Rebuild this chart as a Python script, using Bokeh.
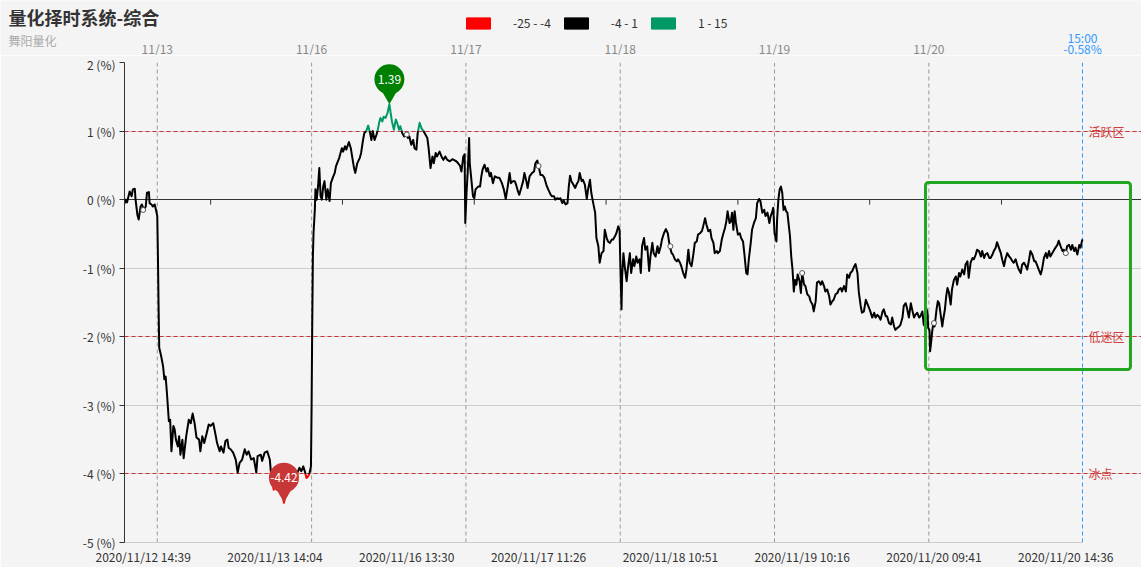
import numpy as np
from bokeh.plotting import figure
from bokeh.models import (Range1d, FixedTicker, Grid, BoxAnnotation, Legend, LegendItem)
from bokeh.embed import file_html
from bokeh.resources import INLINE
from bokeh.core.properties import value

# ---------------- data ----------------
minute_idx = [
    0, 2, 4, 8, 11, 13, 16, 17, 20, 22, 25, 27, 30, 33, 35, 38, 39, 42, 44, 47, 49, 51, 52, 53, 54, 57, 60, 62, 64, 66,
    69, 71, 73, 76, 78, 80, 83, 85, 87, 90, 92, 96, 100, 103, 106, 109, 112, 116, 118, 121, 124, 128, 131, 134, 138,
    141, 144, 148, 150, 154, 157, 160, 162, 165, 169, 173, 176, 179, 183, 187, 190, 193, 197, 201, 205, 207, 212, 214,
    218, 222, 226, 228, 232, 235, 239, 243, 248, 252, 256, 259, 263, 269, 272, 275, 278, 281, 283, 286, 288, 290, 291,
    292, 293, 294, 296, 297, 299, 301, 303, 305, 307, 309, 311, 314, 316, 319, 321, 324, 327, 329, 332, 334, 338, 340,
    343, 345, 349, 352, 354, 357, 359, 362, 366, 368, 371, 373, 376, 379, 382, 384, 386, 389, 392, 394, 396, 398, 401,
    403, 406, 409, 412, 414, 416, 419, 422, 424, 427, 429, 432, 435, 438, 441, 443, 446, 449, 451, 454, 456, 459, 462,
    465, 468, 471, 473, 476, 479, 481, 484, 486, 490, 493, 496, 499, 502, 506,
    510, 512, 516, 519, 522, 524, 527, 529, 530, 532, 534, 536, 537, 539, 542, 544, 546, 550, 553, 555, 557, 560, 563,
    565, 568, 570, 573, 576, 580, 583, 587, 590, 593, 596, 599, 601, 604, 607, 609, 612, 614, 617, 620, 622, 625, 627,
    630, 634, 637, 639, 642, 644, 647, 650, 653, 656, 659, 663, 665, 668, 670, 673, 676, 678, 681, 683, 686, 689, 691,
    693, 695, 698, 701, 703, 706, 708, 711, 713, 716, 719, 721, 724, 726, 729, 732, 734, 737, 739, 742, 745, 747, 750,
    752, 755, 758, 760, 763, 765, 768, 770, 771, 773, 774, 776, 778, 781, 783, 786, 788, 791, 793, 796, 798, 801, 803,
    805, 808, 810, 813, 816, 818, 821, 823, 826, 829, 831, 834, 836, 839, 842, 845, 848, 851, 853, 856, 859, 861, 864,
    866, 869, 872, 874, 877, 879, 882, 885, 887, 890, 892, 895, 898, 900, 903, 905, 908, 911, 913, 916, 918, 921, 923,
    926, 929, 931, 934, 936, 938, 941, 943, 945, 947, 949, 951, 954, 957, 959, 962, 964, 967, 969, 971, 974, 976, 979,
    982, 984, 987, 989, 992, 995, 997, 1000, 1003,
    1005, 1007, 1009, 1011, 1014, 1015, 1017, 1019, 1021, 1023, 1025, 1027, 1029, 1031, 1033, 1035, 1037, 1039, 1041,
    1043, 1045, 1047, 1050, 1052, 1054, 1057, 1059, 1062, 1065, 1067, 1070, 1072, 1075, 1077, 1080, 1083, 1085, 1088,
    1090, 1093, 1096, 1098, 1101, 1103, 1106, 1109, 1111, 1114, 1116, 1119, 1122, 1124, 1127, 1129, 1132, 1135, 1137,
    1140, 1142, 1145, 1147, 1150, 1153, 1155, 1158, 1160, 1163, 1166, 1168, 1171, 1173, 1176, 1179, 1181, 1184, 1186,
    1189, 1192, 1194, 1197, 1199, 1202, 1205, 1207, 1210, 1212, 1215, 1217, 1220, 1223, 1225, 1228, 1230, 1233, 1236,
    1238, 1241, 1243, 1245, 1247, 1249, 1250, 1252, 1253, 1255, 1256, 1258, 1260, 1263, 1265, 1267, 1269, 1272, 1273,
    1276, 1278, 1280, 1282, 1285, 1287, 1290, 1293, 1295, 1298, 1300, 1303, 1306, 1308, 1311, 1313, 1316, 1319, 1321,
    1324, 1326, 1329, 1332, 1334, 1337, 1339, 1342, 1345, 1347, 1350, 1352, 1355, 1357, 1360, 1363, 1365, 1368, 1370,
    1373, 1376, 1378, 1381, 1383, 1386, 1389, 1391, 1394, 1396, 1399, 1402, 1404, 1407, 1409, 1412, 1415, 1417, 1420,
    1422, 1425, 1427, 1430, 1433, 1435, 1438, 1440, 1443, 1446, 1448, 1451, 1453, 1456, 1459, 1461, 1464, 1466, 1469,
    1472, 1474, 1477, 1479, 1482, 1485, 1487, 1489, 1490,
]
pct = [
    -0.06, 0.00, -0.04, 0.12, 0.05, 0.15, 0.16, 0.02, -0.22, -0.29, -0.10, -0.07, -0.15, -0.10, 0.10, 0.11, -0.05,
    -0.07, -0.10, -0.07, -0.15, -0.24, -0.83, -1.55, -2.16, -2.28, -2.43, -2.62, -2.58, -2.82, -3.23, -3.21, -3.67,
    -3.30, -3.35, -3.50, -3.60, -3.45, -3.72, -3.50, -3.77, -3.45, -3.21, -3.26, -3.12, -3.26, -3.47, -3.50, -3.67,
    -3.45, -3.55, -3.40, -3.28, -3.30, -3.26, -3.40, -3.55, -3.67, -3.60, -3.69, -3.52, -3.50, -3.62, -3.64, -3.69,
    -3.79, -3.98, -3.84, -3.79, -3.64, -3.72, -3.67, -3.79, -3.77, -3.98, -3.74, -3.72, -3.81, -3.69, -3.67, -3.79,
    -4.01, -4.23, -4.11, -4.20, -4.15, -4.42, -4.23, -4.13, -4.18, -4.08, -3.98, -3.91, -3.96, -3.89, -3.98, -4.06,
    -4.03, -3.98, -3.89, -3.01, -1.80, -0.83, -0.49, -0.15, 0.15, 0.00, 0.19, 0.46, 0.05, 0.00, 0.19, 0.27, 0.00,
    0.15, -0.02, 0.24, 0.32, 0.39, 0.49, 0.56, 0.61, 0.75, 0.70, 0.78, 0.73, 0.84, 0.75, 0.63, 0.46, 0.39, 0.53, 0.61,
    0.68, 0.87, 0.97, 1.00, 1.08, 0.97, 0.87, 1.00, 0.87, 0.95, 1.02, 1.12, 1.19, 1.14, 1.21, 1.19, 1.26, 1.39, 1.26,
    1.14, 1.02, 1.17, 1.12, 1.02, 1.07, 0.97, 0.92, 0.95, 0.90, 0.92, 0.80, 0.87, 0.75, 0.73, 0.97, 1.12, 1.04, 1.00,
    0.95, 0.90, 0.75, 0.46, 0.63, 0.53, 0.68, 0.63, 0.70, 0.63, 0.58, 0.63, 0.58, 0.56,
    0.59, 0.58, 0.56, 0.53, 0.49, 0.41, 0.63, 0.66, -0.34, 0.10, 0.44, 0.90, 0.53, 0.34, 0.05, 0.02, 0.15, 0.19, 0.19,
    0.34, 0.44, 0.51, 0.41, 0.46, 0.34, 0.39, 0.24, 0.34, 0.32, 0.32, 0.24, 0.15, 0.01, 0.19, 0.39, 0.24, 0.27, 0.27,
    0.22, 0.12, 0.07, 0.17, 0.27, 0.39, 0.27, 0.17, 0.34, 0.39, 0.41, 0.53, 0.57, 0.49, 0.36, 0.36, 0.32, 0.22, 0.15,
    0.07, 0.05, 0.05, 0.00, 0.02, 0.01, 0.02, -0.05, -0.01, -0.07, -0.05, 0.19, 0.35, 0.27, 0.22, 0.17, 0.22, 0.27,
    0.39, 0.27, 0.29, 0.22, 0.01, 0.15, 0.29, 0.10, -0.05, -0.19, -0.56, -0.68, -0.92, -0.78, -0.75, -0.44, -0.56,
    -0.61, -0.63, -0.58, -0.58, -0.53, -0.49, -0.39, -0.44, -0.87, -1.60, -1.12, -0.78, -0.97, -1.19, -1.00, -0.78,
    -1.07, -0.87, -0.97, -0.83, -0.92, -0.87, -1.07, -0.68, -0.56, -0.73, -0.68, -1.04, -0.83, -0.63, -0.78, -0.83,
    -0.68, -0.78, -0.68, -0.58, -0.49, -0.43, -0.49, -0.68, -0.78, -0.80, -0.87, -0.90, -0.87, -0.92, -0.97, -1.07,
    -1.14, -1.02, -0.73, -0.92, -0.97, -0.78, -0.63, -0.61, -0.51, -0.49, -0.46, -0.39, -0.27, -0.36, -0.46, -0.44,
    -0.56, -0.63, -0.78, -0.75, -0.78, -0.75, -0.58, -0.51, -0.41, -0.32, -0.17, -0.34, -0.32, -0.19, -0.44, -0.17,
    -0.34, -0.51, -0.49, -0.56, -0.61, -0.78, -1.07, -1.09, -0.87, -0.63, -0.44, -0.34, -0.27, -0.05, 0.01, -0.02,
    -0.19, -0.15, -0.24, -0.19, -0.34,
    -0.24, -0.19, -0.12, -0.49, -0.61, -0.29, 0.00, 0.15, 0.19, 0.10, -0.15, -0.10, -0.17, -0.19, -0.36, -0.53, -0.83,
    -1.02, -1.34, -1.17, -1.24, -1.09, -1.19, -1.36, -1.07, -1.24, -1.26, -1.38, -1.41, -1.48, -1.53, -1.63, -1.48,
    -1.21, -1.19, -1.24, -1.19, -1.26, -1.34, -1.31, -1.41, -1.53, -1.48, -1.46, -1.38, -1.36, -1.31, -1.29, -1.34,
    -1.26, -1.34, -1.09, -1.14, -1.07, -1.04, -0.97, -0.94, -1.07, -1.34, -1.55, -1.65, -1.63, -1.46, -1.51, -1.58,
    -1.63, -1.72, -1.65, -1.72, -1.68, -1.70, -1.75, -1.63, -1.60, -1.70, -1.70, -1.80, -1.82, -1.72, -1.85, -1.90,
    -1.87, -1.85, -1.82, -1.72, -1.55, -1.51, -1.58, -1.72, -1.51, -1.60, -1.72, -1.68, -1.65, -1.72, -1.70, -1.63,
    -1.82, -1.85, -1.58, -1.65, -1.87, -1.90, -2.21, -2.04, -1.94, -1.80, -1.85, -1.60, -1.48, -1.51, -1.65, -1.85,
    -1.77, -1.60, -1.41, -1.29, -1.34, -1.53, -1.31, -1.17, -1.12, -1.24, -1.07, -1.12, -1.02, -1.09, -0.95, -0.90,
    -1.14, -0.92, -0.85, -0.87, -0.80, -0.73, -0.75, -0.83, -0.75, -0.85, -0.80, -0.78, -0.85, -0.85, -0.80, -0.75,
    -0.70, -0.62, -0.70, -0.78, -0.87, -0.97, -0.87, -0.78, -0.83, -0.85, -0.90, -0.92, -0.87, -0.97, -1.02, -1.07,
    -0.95, -0.92, -0.97, -1.02, -0.87, -0.75, -0.80, -0.90, -0.90, -0.97, -1.02, -1.09, -1.02, -0.85, -0.78, -0.85,
    -0.75, -0.83, -0.78, -0.73, -0.70, -0.66, -0.60, -0.68, -0.75, -0.73, -0.78, -0.68, -0.66, -0.73, -0.66, -0.75,
    -0.70, -0.80, -0.66, -0.70, -0.61, -0.58,
]

day_starts = [51, 291, 531, 771, 1011, 1251]
day_labels = ["11/13", "11/16", "11/17", "11/18", "11/19", "11/20"]
time_ticks = [29, 234, 439, 644, 849, 1054, 1259, 1464]
time_labels = ["2020/11/12 14:39", "2020/11/13 14:04", "2020/11/16 13:30", "2020/11/17 11:26",
               "2020/11/18 10:51", "2020/11/19 10:16", "2020/11/20 09:41", "2020/11/20 14:36"]
zero_axis_ticks = [134, 339, 544, 749, 954, 1159, 1364]
y_ticks = [-5, -4, -3, -2, -1, 0, 1, 2]
zone_levels = [1, -2, -4]
zone_labels = ["活跃区", "低迷区", "冰点"]
piece_bounds = [-4, 1]
piece_labels = ["-25 - -4", "-4 - 1", "1 - 15"]
last_index = 1490
last_time = "15:00"
last_pct = "-0.58%"
title_text = "量化择时系统-综合"
subtitle_text = "舞阳量化"

# ---------------- styling / layout ----------------
FONT = "Noto Sans CJK SC"
BG = "#f4f4f4"
PIECE_COLORS = ["#ff0000", "#000000", "#009966"]
TOTAL_W, TOTAL_H = 1141, 568
HEAD_H = 55                     # header strip (title, legend, day labels)
FOOT_H = 5                      # slider strip at the very bottom
PLOT_L, PLOT_R = 124, 1082      # plot area edges (canvas px)
PLOT_T, PLOT_B = 62, 542
X0, X1, Y0, Y1 = 0, last_index, -5, 2
ppx = (PLOT_R - PLOT_L) / (X1 - X0)
ppy = (PLOT_B - PLOT_T) / (Y1 - Y0)


def px2x(fx):  # canvas px -> index units
    return X0 + (fx - PLOT_L) / ppx


def strip_figure(h):
    f = figure(width=TOTAL_W, height=h, output_backend="svg", toolbar_location=None,
               x_range=Range1d(px2x(0), px2x(TOTAL_W)), y_range=Range1d(h, 0),
               min_border=0, min_border_left=0, min_border_right=0, min_border_top=0,
               min_border_bottom=0, x_axis_location=None, y_axis_location=None,
               background_fill_color=BG, border_fill_color=BG, outline_line_color=None)
    f.xgrid.visible = False
    f.ygrid.visible = False
    return f


# ================= header strip (own root, full-width frame) =================
head = strip_figure(HEAD_H)
head.text(x=[px2x(8)], y=[16], text=[title_text], text_font=value(FONT), text_font_size="18px",
          text_font_style="bold", text_color="#333333", text_baseline="middle", text_align="left")
head.text(x=[px2x(8)], y=[40], text=[subtitle_text], text_font=value(FONT), text_font_size="12px",
          text_color="#aaaaaa", text_baseline="middle", text_align="left")
head.text(x=day_starts, y=[47.5] * len(day_starts), text=day_labels, text_font=value(FONT),
          text_font_size="12px", text_color="#888888", text_baseline="middle", text_align="center")
head.text(x=[last_index, last_index], y=[36.5, 47.5], text=[last_time, last_pct], text_font=value(FONT),
          text_font_size="12px", text_color="#3399ff", text_baseline="middle", text_align="center")

legend_items = []
for lab, colr in zip(piece_labels, PIECE_COLORS):
    r = head.quad(left=[np.nan], right=[np.nan], top=[np.nan], bottom=[np.nan],
                  fill_color=colr, line_color=colr)
    legend_items.append(LegendItem(label=lab, renderers=[r]))
legend = Legend(items=legend_items, orientation="horizontal", location=(463, HEAD_H - 31),
                glyph_width=30, glyph_height=14, label_standoff=20, spacing=10, padding=0, margin=0,
                border_line_color=None, background_fill_alpha=0, label_text_font=FONT,
                label_text_font_size="12px", label_text_color="#333333", label_height=14)
head.add_layout(legend)

# ================= main plot =================
MAIN_H = TOTAL_H - HEAD_H - FOOT_H
p = figure(width=TOTAL_W, height=MAIN_H, output_backend="svg", toolbar_location=None,
           frame_width=TOTAL_W - PLOT_L, frame_height=PLOT_B - PLOT_T,
           x_range=Range1d(X0, px2x(TOTAL_W)), y_range=Range1d(Y0, Y1),
           min_border_left=PLOT_L, min_border_right=0, min_border_top=PLOT_T - HEAD_H,
           min_border_bottom=TOTAL_H - FOOT_H - PLOT_B,
           background_fill_color=BG, border_fill_color=BG, outline_line_color=None)

# bottom axis (time labels)
bx = p.xaxis[0]
bx.ticker = FixedTicker(ticks=time_ticks)
bx.major_label_overrides = {t: s for t, s in zip(time_ticks, time_labels)}
bx.bounds = (X0, X1)
bx.axis_line_color = "#cccccc"
bx.major_tick_out = 0
bx.major_tick_in = 0
bx.minor_tick_out = 0
bx.minor_tick_in = 0
bx.major_label_standoff = 5
bx.major_label_text_font = FONT
bx.major_label_text_font_size = "12px"
bx.major_label_text_color = "#333333"

# left axis
ly = p.yaxis[0]
ly.ticker = FixedTicker(ticks=y_ticks)
ly.major_label_overrides = {t: f"{t} (%)" for t in y_ticks}
ly.axis_line_color = "#333333"
ly.major_tick_line_color = "#333333"
ly.major_tick_out = 5
ly.major_tick_in = 0
ly.minor_tick_out = 0
ly.minor_tick_in = 0
ly.major_label_standoff = 4
ly.major_label_text_font = FONT
ly.major_label_text_font_size = "12px"
ly.major_label_text_color = "#333333"

# horizontal grids (limited to the plotted span)
p.xgrid.visible = False
p.ygrid.ticker = FixedTicker(ticks=y_ticks)
p.ygrid.grid_line_color = "#cccccc"
p.ygrid.bounds = (X0, X1)
p.add_layout(Grid(dimension=1, ticker=FixedTicker(ticks=zone_levels), bounds=(X0, X1),
                  grid_line_color="#cc3333", grid_line_dash="4 3", grid_line_width=1), "center")
p.add_layout(Grid(dimension=1, ticker=FixedTicker(ticks=[0]), bounds=(X0, X1),
                  grid_line_color="#333333", grid_line_width=1), "center")

# day separators (grey dashed) and end-of-data line (blue dashed), one vectorised renderer
vlines_x = day_starts + [last_index]
vlines_c = ["#999999"] * len(day_starts) + ["#3399ff"]
p.multi_line(xs=[[x, x] for x in vlines_x], ys=[[Y0, Y1] for _ in vlines_x],
             line_color=vlines_c, line_width=1, line_dash="4 3")
p.segment(x0=zero_axis_ticks, y0=[0] * len(zero_axis_ticks), x1=zero_axis_ticks,
          y1=[-5 / ppy] * len(zero_axis_ticks), line_color="#333333", line_width=1)

# zone names at the right of the plot area
p.text(x=[px2x(1088)] * len(zone_levels), y=zone_levels, text=zone_labels, text_font=value(FONT),
       text_font_size="12px", text_color="#d03c3c", text_baseline="middle", text_align="left")

# ---------------- piecewise coloured line ----------------
lo, hi = piece_bounds


def piece_of(v):
    return 0 if v < lo else (2 if v > hi else 1)


pieces = []
for k in range(len(minute_idx) - 1):
    xa, ya, xb, yb = minute_idx[k], pct[k], minute_idx[k + 1], pct[k + 1]
    pts = [(xa, ya)]
    for b in sorted(piece_bounds, reverse=(yb < ya)):
        if (ya - b) * (yb - b) < 0:
            t = (b - ya) / (yb - ya)
            pts.append((xa + t * (xb - xa), b))
    pts.append((xb, yb))
    for a, c in zip(pts[:-1], pts[1:]):
        col = piece_of((a[1] + c[1]) / 2)
        if pieces and pieces[-1][0] == col:
            pieces[-1][1].append(c[0])
            pieces[-1][2].append(c[1])
        else:
            pieces.append((col, [a[0], c[0]], [a[1], c[1]]))

p.multi_line(xs=[q[1] for q in pieces], ys=[q[2] for q in pieces],
             line_color=[PIECE_COLORS[q[0]] for q in pieces], line_width=2, line_join="round")

# small hollow symbols at the labelled categories
arr_x = np.array(minute_idx)
arr_y = np.array(pct)
sym_y = [float(arr_y[np.argmin(np.abs(arr_x - t))]) for t in time_ticks]
p.scatter(x=time_ticks, y=sym_y, size=5, marker="circle", fill_color="white",
          line_color="#555555", line_width=1)

# ---------------- max / min pins ----------------
imax, imin = int(np.argmax(arr_y)), int(np.argmin(arr_y))
for idx, colr in ((imax, "#008000"), (imin, "#c83737")):
    xv, yv = float(arr_x[idx]), float(arr_y[idx])
    cy = yv + 25 / ppy
    ty = yv + 10 / ppy
    p.scatter(x=[xv], y=[ty], marker="inverted_triangle", size=17, fill_color=colr, line_color=None)
    p.scatter(x=[xv], y=[cy], marker="circle", size=30, fill_color=colr, line_color=None)
    p.text(x=[xv], y=[cy], text=[f"{yv:.2f}"], text_align="center", text_baseline="middle",
           text_color="white", text_font_size="12px", text_font=value(FONT))

# highlight box
p.add_layout(BoxAnnotation(left=px2x(925), right=px2x(1130),
                           top=Y1 - (182 - PLOT_T) / ppy, bottom=Y1 - (369 - PLOT_T) / ppy,
                           fill_alpha=0, line_color="#22a722", line_alpha=1, line_width=3,
                           border_radius=3))

# ================= slider strip at the bottom (partly visible) =================
foot = strip_figure(FOOT_H)
foot.quad(left=[px2x(124)], right=[px2x(1084)], top=[0], bottom=[1], fill_color="#dddddd",
          line_color=None)
foot.quad(left=[px2x(887)], right=[px2x(1084)], top=[1], bottom=[FOOT_H], fill_color="#d5dce5",
          line_color=None)

# independent roots stacked vertically (no frame alignment between them)
html = file_html([head, p, foot], INLINE)
html = html.replace("<body>", '<body style="background:#f4f4f4;margin:0;line-height:0;font-size:0;">', 1)
open("out.html", "w").write(html)
